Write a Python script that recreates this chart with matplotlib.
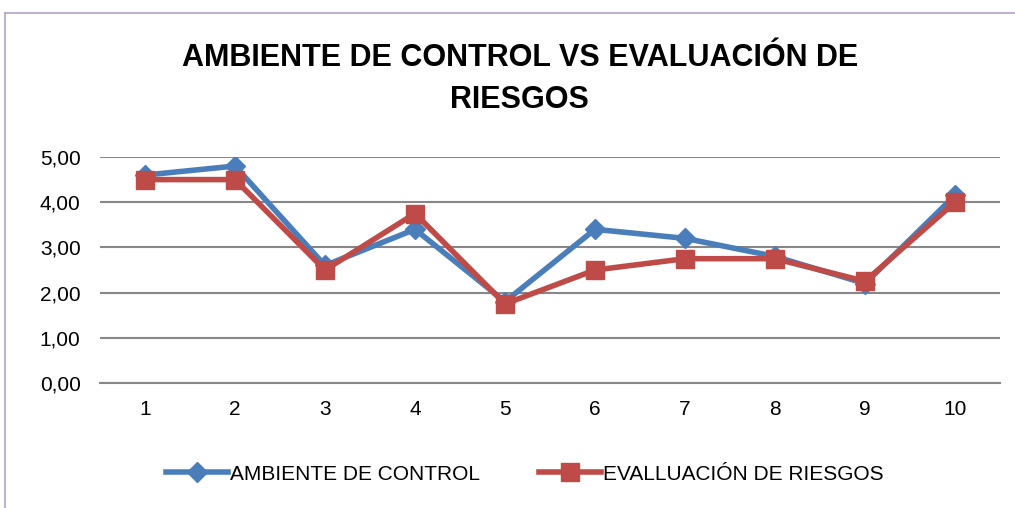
import matplotlib
matplotlib.use("Agg")
import matplotlib.pyplot as plt
from matplotlib.ticker import FuncFormatter

categories = ["1", "2", "3", "4", "5", "6", "7", "8", "9", "10"]
ambiente = [4.6, 4.8, 2.6, 3.4, 1.8, 3.4, 3.2, 2.8, 2.2, 4.15]
evaluacion = [4.5, 4.5, 2.5, 3.75, 1.75, 2.5, 2.75, 2.75, 2.25, 4.0]
title = "AMBIENTE DE CONTROL VS EVALUACIÓN DE\nRIESGOS"
labels = ["AMBIENTE DE CONTROL", "EVALLUACIÓN DE RIESGOS"]

plt.rcParams['font.family'] = ['Liberation Sans', 'DejaVu Sans']

fig = plt.figure(figsize=(10.15, 5.08), dpi=100)
# outer border (top and left)
fig.add_artist(plt.Line2D([5/1015, 1], [1-13/508, 1-13/508], transform=fig.transFigure, color='#b3a2c7', lw=1.2))
fig.add_artist(plt.Line2D([5/1015, 5/1015], [0, 1-13/508], transform=fig.transFigure, color='#b3a2c7', lw=1.2))

ax = fig.add_axes([100/1015, 1-383/508, 900/1015, (383-157)/508])
x = list(range(len(categories)))
ax.plot(x, ambiente, color='#4a7ebb', lw=4, marker='D', markersize=10, label=labels[0], zorder=3)
ax.plot(x, evaluacion, color='#be4b48', lw=4, marker='s', markersize=13, label=labels[1], zorder=4)

ax.set_xlim(-0.5, len(categories) - 0.5)
ax.set_ylim(0, 5)
ax.set_yticks([0, 1, 2, 3, 4, 5])
ax.yaxis.set_major_formatter(FuncFormatter(lambda v, p: f"{v:.2f}".replace('.', ',')))
ax.set_xticks(x)
ax.set_xticklabels(categories)
ax.grid(axis='y', color='#878787', lw=1.5)
ax.set_axisbelow(True)
for s in ['top', 'right', 'left']:
    ax.spines[s].set_visible(False)
ax.spines['bottom'].set_color('#878787')
ax.spines['bottom'].set_linewidth(1.5)
ax.tick_params(axis='both', length=0, labelsize=15, colors='black', pad=12)
ax.tick_params(axis='y', pad=14)

fig.text(0.512, 1-79/508, title, ha='center', va='center', fontsize=22, fontweight='bold', linespacing=1.5)

leg = fig.legend(loc='center', bbox_to_anchor=(0.517, 1-474/508), ncol=2, frameon=False,
                 fontsize=15, handlelength=3, columnspacing=2.8, handletextpad=0.1)
fig.savefig("out.png", dpi=100)
